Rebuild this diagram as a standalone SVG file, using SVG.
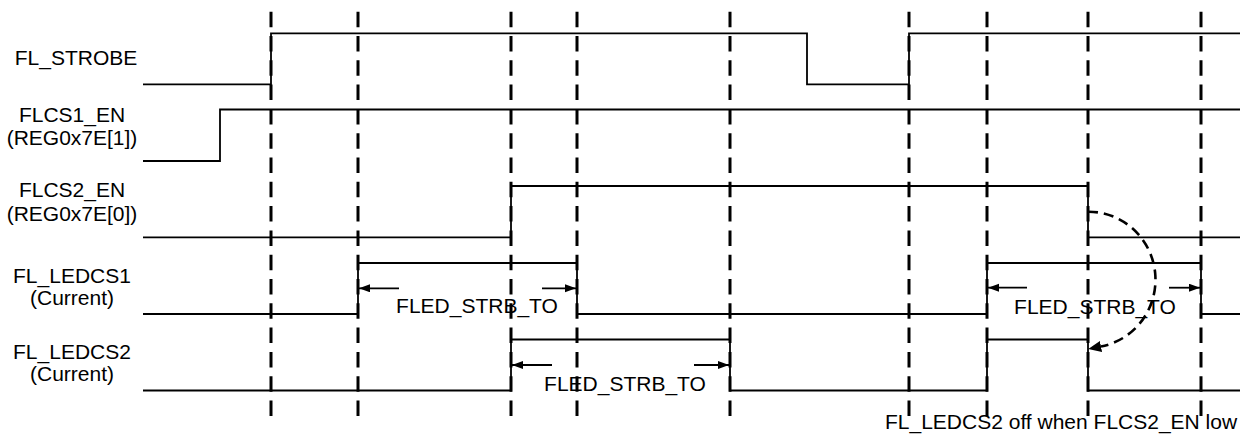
<svg xmlns="http://www.w3.org/2000/svg" width="1242" height="434" viewBox="0 0 1242 434">
<style>
  .bg{fill:#ffffff}
  .sig{fill:none;stroke:#000;stroke-width:1.8;stroke-linejoin:miter}
  .grid{fill:none;stroke:#000;stroke-width:3;stroke-dasharray:15.5 8.8}
  .dim{fill:none;stroke:#000;stroke-width:1.8}
  .arc{fill:none;stroke:#000;stroke-width:2.6;stroke-dasharray:10 6}
  text{font-family:"Liberation Sans",Arial,sans-serif;font-size:21px;fill:#000}
  .lbl{text-anchor:middle}
</style>
<defs>
  <marker id="ah" markerUnits="userSpaceOnUse" markerWidth="12" markerHeight="10" refX="11" refY="4" orient="auto">
    <path d="M0,0 L11,4 L0,8 z" fill="#000"/>
  </marker>
  <marker id="ah2" markerUnits="userSpaceOnUse" markerWidth="14" markerHeight="12" refX="0" refY="5.5" orient="auto">
    <path d="M0,0 L13,5.5 L0,11 z" fill="#000"/>
  </marker>
</defs>
<rect class="bg" x="0" y="0" width="1242" height="434"/>

<g id="fl_strobe">
  <text class="lbl" x="76" y="65">FL_STROBE</text>
  <path class="sig" d="M143,84.3 H271 V33.3 H807 V84.3 H909 V33.3 H1240"/>
</g>
<g id="flcs1_en">
  <text class="lbl" x="72" y="122">FLCS1_EN</text>
  <text class="lbl" x="72" y="145">(REG0x7E[1])</text>
  <path class="sig" d="M143,161 H220 V109.5 H1240"/>
</g>
<g id="flcs2_en">
  <text class="lbl" x="72" y="197">FLCS2_EN</text>
  <text class="lbl" x="72" y="221">(REG0x7E[0])</text>
  <path class="sig" d="M143,237.3 H511 V186 H1088 V237.3 H1240"/>
</g>
<g id="fl_ledcs1">
  <text class="lbl" x="72" y="283">FL_LEDCS1</text>
  <text class="lbl" x="72" y="305">(Current)</text>
  <path class="sig" d="M143,314 H358 V263 H577 V314 H987 V263 H1201 V314 H1240"/>
  <text class="lbl" x="477" y="313">FLED_STRB_TO</text>
  <text class="lbl" x="1095" y="314">FLED_STRB_TO</text>
</g>
<g id="fl_ledcs2">
  <text class="lbl" x="72" y="359">FL_LEDCS2</text>
  <text class="lbl" x="72" y="381">(Current)</text>
  <path class="sig" d="M143,390.5 H511 V339.5 H730 V390.5 H987 V339.5 H1088 V390.5 H1240"/>
  <text class="lbl" x="625" y="390.5">FLED_STRB_TO</text>
</g>

<g id="timeline">
  <line class="grid" x1="271" y1="11.7" x2="271" y2="416.7"/>
  <line class="grid" x1="358" y1="11.7" x2="358" y2="416.7"/>
  <line class="grid" x1="511" y1="11.7" x2="511" y2="416.7"/>
  <line class="grid" x1="577" y1="11.7" x2="577" y2="416.7"/>
  <line class="grid" x1="730" y1="11.7" x2="730" y2="416.7"/>
  <line class="grid" x1="909" y1="11.7" x2="909" y2="416.7"/>
  <line class="grid" x1="987" y1="11.7" x2="987" y2="416.7"/>
  <line class="grid" x1="1088" y1="11.7" x2="1088" y2="416.7"/>
  <line class="grid" x1="1201" y1="11.7" x2="1201" y2="416.7"/>
</g>

<g id="connectors">
  <line class="dim" x1="399" y1="288.3" x2="359" y2="288.3" marker-end="url(#ah)"/>
  <line class="dim" x1="542" y1="288.3" x2="576" y2="288.3" marker-end="url(#ah)"/>
  <line class="dim" x1="552" y1="365" x2="512" y2="365" marker-end="url(#ah)"/>
  <line class="dim" x1="694" y1="365" x2="729" y2="365" marker-end="url(#ah)"/>
  <line class="dim" x1="1027" y1="287.7" x2="988" y2="287.7" marker-end="url(#ah)"/>
  <line class="dim" x1="1169" y1="287.7" x2="1200" y2="287.7" marker-end="url(#ah)"/>
  <path class="arc" d="M1088,211.7 A67,68 0 0 1 1101,346.5" marker-end="url(#ah2)"/>
</g>

<text x="885" y="429">FL_LEDCS2 off when FLCS2_EN low</text>
</svg>
